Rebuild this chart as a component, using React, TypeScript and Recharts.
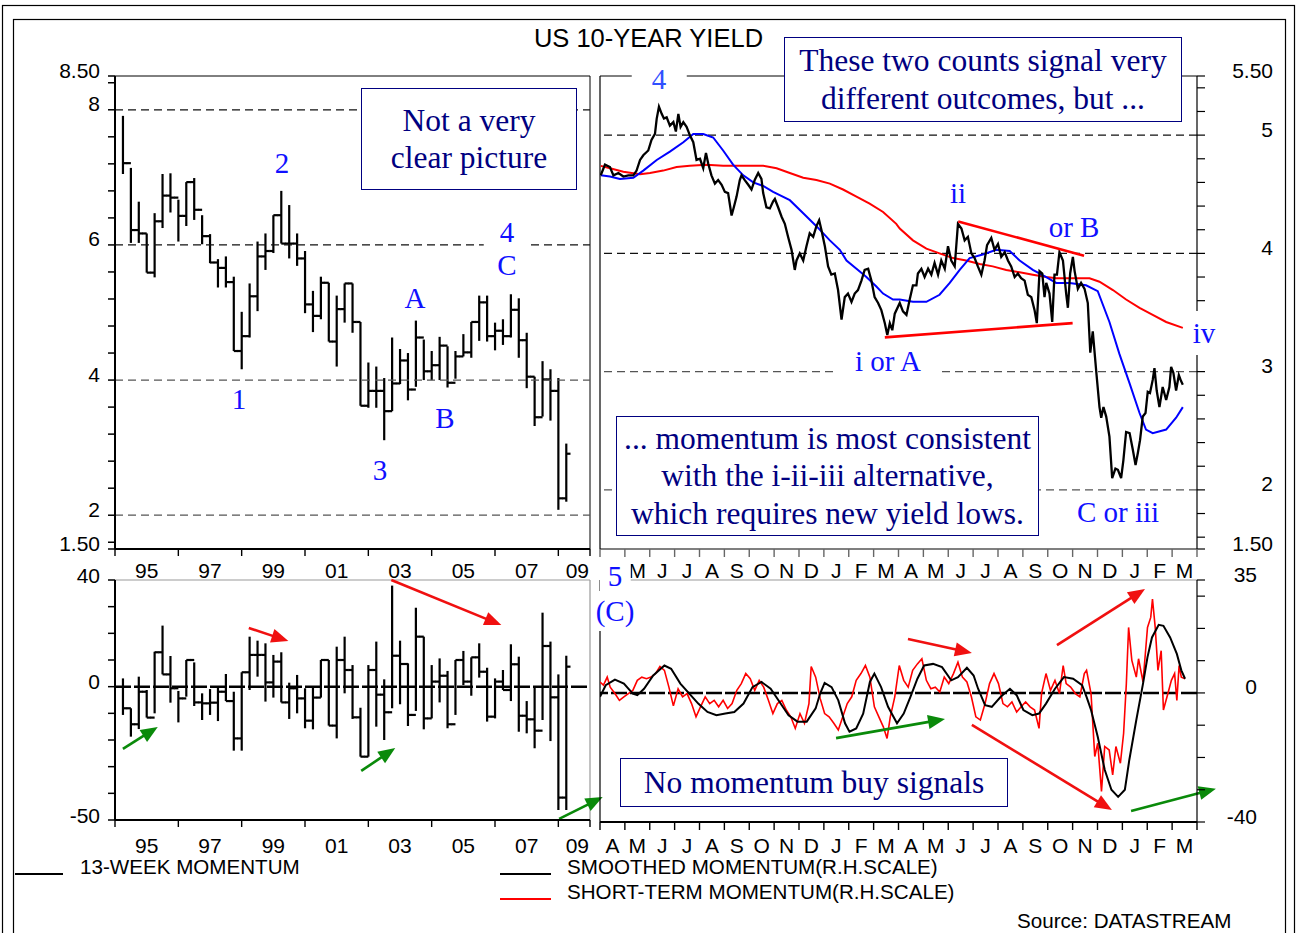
import React from 'react';
import { ComposedChart, Bar, Line, XAxis, YAxis, ReferenceLine } from 'recharts';

const PAGE_W = 1297;
const PAGE_H = 933;
const SANS = "'Liberation Sans', Arial, Helvetica, sans-serif";
const SERIF = "'Liberation Serif', 'Times New Roman', Times, serif";
const NAVY = '#000080';
const BLUE = '#1010ff';
const AXIS_FONT = 21;

// ---------------- quarterly US 10-year yield (high / low / close) ----------------
const quarterYieldHigh = [7.91, 7.14, 6.64, 6.17, 6.47, 7.05, 7.06, 6.67, 6.93, 6.99, 6.44, 6.16, 5.79, 5.83, 5.53, 5.01, 5.43, 6.05, 6.17, 6.44, 6.8, 6.59, 6.17, 5.91, 5.32, 5.53, 5.44, 5.25, 5.43, 5.43, 4.86, 4.26, 4.2, 4.03, 4.63, 4.46, 4.4, 4.88, 4.6, 4.43, 4.64, 4.5, 4.43, 4.68, 4.86, 5.25, 5.25, 4.85, 4.9, 5.27, 5.21, 4.7, 4.05, 4.28, 4.16, 4.03, 3.06];
const quarterYieldLow = [7.05, 6.03, 6.03, 5.59, 5.52, 6.25, 6.48, 6.05, 6.28, 6.37, 6.01, 5.73, 5.37, 5.37, 4.43, 4.16, 4.63, 5.02, 5.63, 5.88, 6.02, 5.8, 5.69, 4.99, 4.71, 4.9, 4.57, 4.2, 4.85, 4.7, 3.62, 3.59, 3.59, 3.11, 3.54, 3.94, 3.7, 3.9, 4.0, 4.0, 4.0, 3.89, 4.02, 4.35, 4.33, 4.58, 4.57, 4.44, 4.52, 4.63, 4.33, 3.88, 3.32, 3.46, 3.4, 2.08, 2.2];
const quarterYieldClose = [7.21, 6.22, 6.17, 5.59, 6.35, 6.73, 6.7, 6.43, 6.93, 6.52, 6.13, 5.74, 5.66, 5.45, 4.43, 4.65, 5.24, 5.83, 5.91, 6.44, 6.02, 6.02, 5.8, 5.12, 4.95, 5.44, 4.57, 5.05, 5.43, 4.86, 3.62, 3.84, 3.84, 3.54, 3.95, 4.29, 3.86, 4.63, 4.13, 4.22, 4.51, 3.96, 4.35, 4.41, 4.86, 5.15, 4.65, 4.73, 4.65, 5.04, 4.59, 4.05, 3.45, 4.01, 3.84, 2.25, 2.91];

// ---------------- quarterly 13-week momentum (high / low / close) ----------------
const quarterMomHigh = [3.1, -8.1, 3.75, -1.25, 13.1, 22.9, 11.5, -1.6, 10, 9.1, -2.5, -0.9, -0.25, 4.75, -1.9, 5.4, 18.75, 17.25, 16.25, 11.9, 12.9, 1.5, 4.4, -0.6, -0.4, 10, 10, 15, 18.75, 8.1, -7.9, 8.1, 16.9, 2.75, 37.9, 17.25, 8.75, 29.6, 18.75, 8.1, 10.6, 5.9, 10, 13.4, 11, 16.25, 7.1, 3.1, 6.25, 15.9, 11.25, -5.4, 0, 27.75, 16.9, 4.6, 11.6];
const quarterMomLow = [-10.6, -18.75, -15.9, -11.6, -10, 4.6, -6, -13.4, -3.75, -7.25, -12.5, -10.6, -12.9, -5.4, -24, -24, -1.25, 3.75, -5.6, -4.1, -5.9, -12.1, -10, -15.6, -16, -4.1, -14.6, -19.4, -2.5, -12.1, -26.25, -26.25, -15, -20, -8.1, -6.6, -14.75, -9.1, -16, -11.9, -5.9, -15.6, -10.6, 0.6, -3.4, 3.4, -13.1, -11.9, -1.25, -5.4, -16.9, -17.5, -23.1, -12.5, -20.4, -46.25, -46.25];
const quarterMomClose = [-8.1, -14.1, -1.9, -11.6, 12.9, 4.6, -0.6, -4.4, 10, -5.9, -6.25, -6, -1.9, -5.4, -19.4, 5.4, 11.9, 11.9, 1.6, 9.4, -5.9, -0.6, -4.4, -12.75, -4.1, 10, -14.6, 10, 6.25, -11.5, -26.25, 6.25, -3, -9.6, 11.6, 8.5, -10.6, 18.75, -11.9, 1.9, 4.1, -14.1, 10, 1.9, 11, 5.6, -11.25, 1.9, -1.25, 8.4, -10.9, -12.25, -16.5, 15.25, -4, -41.6, 7.5];

// ---------------- daily data: [months since 1 Apr 2007, value] ----------------
const dailyYield = [
  [0.03, 4.66], [0.2, 4.75], [0.4, 4.73], [0.54, 4.66], [0.74, 4.68], [0.94, 4.65], [1.14, 4.66], [1.34, 4.66], [1.47, 4.7], [1.61, 4.79],
  [1.74, 4.83], [1.94, 4.87], [2.07, 4.96], [2.21, 5.01], [2.28, 5.14], [2.37, 5.24], [2.48, 5.18], [2.57, 5.14], [2.68, 5.15], [2.81, 5.08],
  [2.95, 5.11], [3.05, 5.03], [3.15, 5.18], [3.24, 5.07], [3.35, 5.11], [3.48, 5.07], [3.61, 5.0], [3.75, 4.94], [3.88, 4.79], [4.02, 4.8],
  [4.15, 4.72], [4.26, 4.85], [4.35, 4.76], [4.48, 4.66], [4.62, 4.59], [4.75, 4.62], [4.89, 4.58], [5.02, 4.52], [5.15, 4.51], [5.29, 4.32],
  [5.38, 4.39], [5.49, 4.48], [5.62, 4.62], [5.69, 4.66], [5.82, 4.62], [5.96, 4.58], [6.09, 4.54], [6.22, 4.62], [6.36, 4.68], [6.49, 4.63],
  [6.56, 4.51], [6.69, 4.39], [6.83, 4.38], [6.96, 4.44], [7.03, 4.46], [7.16, 4.39], [7.3, 4.31], [7.43, 4.25], [7.56, 4.14], [7.7, 4.03],
  [7.83, 3.86], [7.9, 3.94], [8.03, 4.0], [8.17, 3.94], [8.3, 4.06], [8.43, 4.17], [8.57, 4.14], [8.7, 4.23], [8.81, 4.28], [8.9, 4.2],
  [9.04, 4.06], [9.17, 3.89], [9.3, 3.82], [9.44, 3.83], [9.57, 3.69], [9.71, 3.44], [9.84, 3.63], [9.97, 3.66], [10.11, 3.59], [10.24, 3.66],
  [10.37, 3.69], [10.51, 3.77], [10.64, 3.86], [10.78, 3.87], [10.91, 3.77], [11.04, 3.63], [11.18, 3.58], [11.31, 3.52], [11.45, 3.41], [11.55, 3.31],
  [11.65, 3.41], [11.75, 3.35], [11.85, 3.49], [12.05, 3.58], [12.18, 3.51], [12.32, 3.48], [12.45, 3.61], [12.58, 3.73], [12.72, 3.73], [12.78, 3.83],
  [12.92, 3.87], [13.05, 3.8], [13.19, 3.87], [13.32, 3.82], [13.45, 3.92], [13.59, 3.82], [13.72, 3.94], [13.86, 3.87], [13.99, 4.06], [14.12, 3.94],
  [14.26, 3.89], [14.39, 4.25], [14.53, 4.21], [14.66, 4.11], [14.79, 4.14], [14.93, 4.0], [15.06, 3.96], [15.19, 3.89], [15.33, 3.82], [15.46, 3.94],
  [15.56, 4.07], [15.73, 4.13], [15.86, 4.03], [16.0, 4.08], [16.13, 3.97], [16.27, 4.01], [16.4, 3.94], [16.53, 3.89], [16.67, 3.8], [16.8, 3.83],
  [16.93, 3.79], [17.07, 3.77], [17.2, 3.65], [17.34, 3.63], [17.47, 3.52], [17.56, 3.41], [17.67, 3.85], [17.78, 3.83], [17.87, 3.63], [17.94, 3.75],
  [18.07, 3.66], [18.18, 3.42], [18.27, 3.82], [18.37, 3.82], [18.47, 4.01], [18.61, 3.94], [18.74, 3.66], [18.81, 3.54], [18.9, 3.83], [19.01, 3.97],
  [19.08, 3.85], [19.21, 3.7], [19.34, 3.75], [19.48, 3.7], [19.61, 3.58], [19.71, 3.16], [19.81, 3.34], [19.95, 3.0], [20.08, 2.7], [20.15, 2.61],
  [20.24, 2.7], [20.35, 2.62], [20.48, 2.45], [20.59, 2.1], [20.72, 2.18], [20.82, 2.17], [20.95, 2.1], [21.04, 2.25], [21.15, 2.49], [21.29, 2.48],
  [21.42, 2.34], [21.53, 2.21], [21.62, 2.31], [21.71, 2.42], [21.82, 2.62], [21.93, 2.65], [22.02, 2.83], [22.11, 2.82], [22.22, 2.93], [22.29, 3.03],
  [22.38, 2.84], [22.49, 2.7], [22.62, 2.87], [22.76, 2.76], [22.89, 2.87], [22.96, 3.04], [23.05, 2.99], [23.16, 2.84], [23.27, 2.97], [23.36, 2.92],
  [23.43, 2.89],
];
const shortAverage = [
  [0.03, 4.66], [0.4, 4.65], [0.8, 4.63], [1.34, 4.64], [1.74, 4.7], [2.28, 4.79], [2.81, 4.86], [3.35, 4.94], [3.75, 5.01], [4.15, 5.01],
  [4.55, 4.98], [4.95, 4.87], [5.35, 4.75], [5.76, 4.66], [6.16, 4.6], [6.56, 4.57], [6.96, 4.52], [7.63, 4.45], [8.17, 4.34], [8.7, 4.23],
  [9.24, 4.11], [9.64, 4.03], [9.91, 3.94], [10.31, 3.87], [10.71, 3.8], [11.11, 3.72], [11.38, 3.66], [11.78, 3.61], [12.05, 3.61], [12.58, 3.59],
  [13.12, 3.59], [13.65, 3.65], [14.06, 3.75], [14.46, 3.86], [14.86, 3.96], [15.39, 3.99], [15.93, 4.03], [16.47, 4.02], [16.87, 3.94], [17.4, 3.86],
  [17.94, 3.8], [18.34, 3.75], [18.88, 3.75], [19.54, 3.73], [20.01, 3.68], [20.48, 3.42], [20.88, 3.15], [21.29, 2.9], [21.69, 2.65], [21.95, 2.51],
  [22.22, 2.48], [22.76, 2.51], [23.16, 2.61], [23.43, 2.7],
];
const longAverage = [
  [0.03, 4.74], [0.4, 4.72], [0.94, 4.69], [1.61, 4.67], [2.01, 4.68], [2.54, 4.7], [3.08, 4.73], [3.61, 4.74], [4.28, 4.75], [4.95, 4.74],
  [5.62, 4.74], [6.56, 4.74], [7.1, 4.72], [7.63, 4.68], [8.17, 4.64], [8.7, 4.62], [9.24, 4.59], [9.77, 4.54], [10.31, 4.48], [10.84, 4.42],
  [11.38, 4.35], [11.91, 4.25], [12.05, 4.21], [12.58, 4.11], [13.12, 4.04], [13.65, 4.0], [14.19, 3.96], [14.72, 3.94], [15.26, 3.91], [15.79, 3.89],
  [16.33, 3.86], [16.87, 3.84], [17.4, 3.82], [17.94, 3.8], [18.34, 3.79], [19.01, 3.79], [19.68, 3.79], [20.08, 3.76], [20.62, 3.69], [21.15, 3.61],
  [21.69, 3.54], [22.22, 3.48], [22.76, 3.42], [23.43, 3.37],
];
const smoothedMomentum = [
  [0.0, -1.2], [0.23, 2.4], [0.6, 4.1], [0.96, 2.9], [1.32, -0.2], [1.5, -0.7], [1.77, 1.3], [2.14, 5.4], [2.59, 8.5], [2.86, 7.5],
  [3.23, 2.9], [3.59, -0.2], [3.95, -3.3], [4.32, -5.9], [4.68, -6.9], [5.04, -6.4], [5.4, -5.9], [5.77, -3.3], [6.13, 1.8], [6.49, 3.4],
  [6.86, 1.3], [7.22, -2.8], [7.58, -6.9], [7.94, -8.9], [8.31, -8.9], [8.67, -4.8], [8.85, -0.2], [9.03, 3.1], [9.31, 1.8], [9.58, -2.3],
  [9.85, -9.4], [10.03, -12.0], [10.3, -11.0], [10.58, -6.4], [10.85, 3.4], [11.03, 6.0], [11.3, 1.8], [11.58, -4.3], [11.94, -9.4], [12.21, -6.4],
  [12.48, -1.2], [12.76, 4.4], [13.03, 8.5], [13.39, 9.0], [13.75, 8.0], [14.12, 3.9], [14.39, 4.9], [14.75, 7.8], [15.02, 5.4], [15.2, 1.3],
  [15.48, -3.8], [15.75, -4.3], [16.11, -1.2], [16.48, 1.3], [16.75, -0.7], [17.02, -5.3], [17.38, -6.9], [17.65, -6.4], [17.93, -3.3], [18.29, 1.3],
  [18.65, 4.9], [19.02, 4.4], [19.38, 2.4], [19.56, -1.2], [19.74, -5.3], [20.01, -13.6], [20.29, -23.8], [20.56, -30.0], [20.83, -32.2], [21.1, -30.0],
  [21.28, -20.7], [21.56, -8.4], [21.83, 2.9], [22.01, 11.1], [22.19, 17.2], [22.46, 21.1], [22.65, 20.8], [22.92, 17.2], [23.19, 12.1], [23.37, 7.0],
  [23.52, 4.4],
];
const shortTermMomentum = [
  [0.0, 3.4], [0.14, 2.4], [0.29, 4.9], [0.41, 1.8], [0.6, -0.2], [0.78, -2.3], [0.96, -1.2], [1.14, -0.2], [1.32, 0.8], [1.5, 3.9],
  [1.68, 4.9], [1.87, 4.4], [2.05, 4.9], [2.23, 6.0], [2.41, 8.2], [2.59, 7.0], [2.77, 1.8], [2.95, -4.0], [3.14, 1.3], [3.32, -1.2],
  [3.5, -0.2], [3.68, -3.3], [3.86, -7.4], [4.04, -4.3], [4.23, -1.2], [4.41, -3.3], [4.59, -2.3], [4.77, -4.3], [4.95, -2.3], [5.13, -4.8],
  [5.31, -3.3], [5.5, 0.8], [5.68, 2.9], [5.86, 6.0], [6.04, 4.4], [6.22, 0.8], [6.4, 3.9], [6.58, 1.8], [6.77, -2.3], [6.95, -6.4],
  [7.13, -3.3], [7.31, -2.3], [7.49, -5.3], [7.67, -7.4], [7.85, -11.0], [8.04, -6.4], [8.22, -9.4], [8.4, -3.3], [8.49, 8.2], [8.67, 4.9],
  [8.85, -1.7], [9.03, -6.4], [9.21, -7.4], [9.4, -9.4], [9.58, -11.5], [9.76, -7.4], [9.94, -3.3], [10.12, -1.2], [10.3, 3.9], [10.49, 6.0],
  [10.67, 8.5], [10.85, 4.9], [11.03, -4.3], [11.21, -7.4], [11.39, -10.5], [11.54, -14.1], [11.67, -7.4], [11.85, -1.2], [12.03, 8.5], [12.21, 3.9],
  [12.39, 1.8], [12.57, 7.0], [12.76, 9.0], [12.94, 10.6], [13.12, 3.9], [13.3, 1.3], [13.48, 1.8], [13.66, 0.3], [13.84, 4.9], [14.02, 2.9],
  [14.21, 6.0], [14.39, 9.5], [14.57, 4.9], [14.75, 3.4], [14.93, -1.2], [15.11, -7.4], [15.29, -8.4], [15.48, -3.3], [15.66, 2.9], [15.84, 6.0],
  [16.02, 2.9], [16.2, -3.3], [16.38, -4.3], [16.56, -2.8], [16.75, -5.9], [16.93, -4.3], [17.11, -2.8], [17.29, -4.3], [17.47, -5.3], [17.65, -11.0],
  [17.75, -0.2], [17.93, 6.0], [18.11, 0.8], [18.29, 3.9], [18.47, -0.2], [18.62, 8.5], [18.74, 2.9], [18.92, 1.8], [19.11, -0.2], [19.29, -1.2],
  [19.47, 6.0], [19.56, 7.0], [19.74, -0.2], [19.89, -19.7], [20.01, -15.6], [20.16, -30.5], [20.29, -16.6], [20.47, -17.7], [20.61, -25.4], [20.74, -16.6],
  [20.92, -21.8], [21.05, -12.5], [21.16, 2.9], [21.25, 20.3], [21.38, 10.1], [21.56, 4.9], [21.65, 10.6], [21.83, 3.4], [22.01, 20.3], [22.14, 23.4],
  [22.21, 29.1], [22.32, 20.3], [22.43, 7.0], [22.56, 13.1], [22.65, -5.3], [22.83, -0.2], [22.97, 3.9], [23.1, 6.0], [23.19, -2.3], [23.28, 8.5],
  [23.37, 4.9], [23.52, 4.4],
];

// ---------------- axis ticks and labels ----------------
const yearTickVals = [0, 8, 16, 24, 32, 40, 48, 56, 60];
const yearLabelVals = [4, 12, 20, 28, 36, 44, 52, 58.4];
const yearLabels = ['95', '97', '99', '01', '03', '05', '07', '09'];
const monthTickVals = [0, 1, 2, 3, 4, 5, 6, 7, 8, 9, 10, 11, 12, 13, 14, 15, 16, 17, 18, 19, 20, 21, 22, 23, 24];
const monthLabelVals = [0.5, 1.5, 2.5, 3.5, 4.5, 5.5, 6.5, 7.5, 8.5, 9.5, 10.5, 11.5, 12.5, 13.5, 14.5, 15.5, 16.5, 17.5, 18.5, 19.5, 20.5, 21.5, 22.5, 23.5];
const monthLabels = ['A', 'M', 'J', 'J', 'A', 'S', 'O', 'N', 'D', 'J', 'F', 'M', 'A', 'M', 'J', 'J', 'A', 'S', 'O', 'N', 'D', 'J', 'F', 'M'];
// upper row: the first "A" sits under the "5" wave label in the reference, so it is not shown
const monthLabelsUpper = ['', 'M', 'J', 'J', 'A', 'S', 'O', 'N', 'D', 'J', 'F', 'M', 'A', 'M', 'J', 'J', 'A', 'S', 'O', 'N', 'D', 'J', 'F', 'M'];
const yieldTickVals = [1.5, 1.6, 2, 2.4, 2.8, 3.2, 3.6, 4, 4.4, 4.8, 5.2, 5.6, 6, 6.4, 6.8, 7.2, 7.6, 8, 8.4, 8.5];
const yieldLabelVals = [1.5, 2, 4, 6, 8, 8.5];
const yieldLabels = ['1.50', '2', '4', '6', '8', '8.50'];
const momTickVals = [-50, -40, -30, -20, -10, 0, 10, 20, 30, 40];
const momLabelVals = [-50, 0, 40];
const momLabels = ['-50', '0', '40'];
const dailyTickVals = [1.5, 1.6, 1.8, 2, 2.2, 2.4, 2.6, 2.8, 3, 3.2, 3.4, 3.6, 3.8, 4, 4.2, 4.4, 4.6, 4.8, 5, 5.2, 5.4, 5.5];
const dailyLabelVals = [1.5, 2, 3, 4, 5, 5.5];
const dailyLabels = ['1.50', '2', '3', '4', '5', '5.50'];
const stmTickVals = [-40, -30, -20, -10, 0, 10, 20, 30, 35];
const stmLabelVals = [-40, 0, 35];
const stmLabels = ['-40', '0', '35'];

// annotations in data coordinates
const trendLower = [{ x: 11.45, y: 3.29 }, { x: 19.0, y: 3.41 }];
const trendUpper = [{ x: 14.4, y: 4.27 }, { x: 19.46, y: 3.98 }];
const momArrowsLeft = [
  { c: 'green', s: [{ x: 1.0, y: -23.3 }, { x: 5.4, y: -15.1 }] },
  { c: 'red', s: [{ x: 16.9, y: 22.0 }, { x: 21.9, y: 17.1 }] },
  { c: 'green', s: [{ x: 31.1, y: -31.6 }, { x: 35.4, y: -23.0 }] },
  { c: 'red', s: [{ x: 34.9, y: 40.0 }, { x: 48.8, y: 23.1 }] },
  { c: 'green', s: [{ x: 56.1, y: -49.6 }, { x: 61.6, y: -41.4 }] },
];
const momArrowsRight = [
  { c: 'red', s: [{ x: 12.38, y: 16.7 }, { x: 14.95, y: 12.4 }] },
  { c: 'green', s: [{ x: 9.49, y: -14.0 }, { x: 13.87, y: -8.1 }] },
  { c: 'red', s: [{ x: 14.95, y: -9.9 }, { x: 20.58, y: -36.3 }] },
  { c: 'red', s: [{ x: 18.37, y: 14.8 }, { x: 21.91, y: 32.2 }] },
  { c: 'green', s: [{ x: 21.35, y: -36.6 }, { x: 24.76, y: -29.7 }] },
];

// ---------------- derived tables ----------------
const makeBars = (hi: number[], lo: number[], cl: number[]) =>
  hi.map((h, k) => ({ idx: k + 1, range: [lo[k], h], hi: h, lo: lo[k], close: cl[k], prev: k > 0 ? cl[k - 1] : null }));
const yieldBars = makeBars(quarterYieldHigh, quarterYieldLow, quarterYieldClose);
const momBars = makeBars(quarterMomHigh, quarterMomLow, quarterMomClose);
const toSeries = (pairs: number[][]) => pairs.map(([m, v]) => ({ m, v }));
const union = (a: number[], b: number[]) => [...a, ...b].sort((p, q) => p - q);

const near = (a: number, b: number) => Math.abs(a - b) < 1e-6;
const labelFor = (vals: number[], texts: string[], v: number) => {
  const k = vals.findIndex((t) => near(t, v));
  return k >= 0 ? texts[k] : '';
};

const yTick = (vals: number[], texts: string[], dy: number) => (p: any) => {
  const s = labelFor(vals, texts, p.payload.value);
  if (!s) return <g />;
  return (
    <text x={p.x} y={p.y + dy} textAnchor="end" dominantBaseline="central" fontFamily={SANS} fontSize={AXIS_FONT} fill="#000">
      {s}
    </text>
  );
};

// x ticks: boundary values get a downward tick mark, label values get centred text
const xTick = (bounds: number[], labelVals: number[], labels: string[], tickLen: number, tickColor: string, labelDy: number) => (p: any) => {
  const v = p.payload.value;
  const s = labelFor(labelVals, labels, v);
  const isBound = bounds.some((b) => near(b, v));
  return (
    <g>
      {isBound && <line x1={p.x} x2={p.x} y1={p.y} y2={p.y + tickLen} stroke={tickColor} strokeWidth={1.4} />}
      {s && (
        <text x={p.x} y={p.y + labelDy} textAnchor="middle" dominantBaseline="central" fontFamily={SANS} fontSize={AXIS_FONT} fill="#000">
          {s}
        </text>
      )}
    </g>
  );
};

const OhlcShape = (props: any) => {
  const { x, y, width, height, payload } = props;
  if (x == null || y == null || !payload) return <g />;
  const cx = x + width / 2;
  const top = Math.min(y, y + height);
  const h = Math.abs(height);
  const span = payload.hi - payload.lo;
  const toY = (v: number) => top + ((payload.hi - v) / span) * h;
  const sw = 2.2;
  return (
    <g>
      <line x1={cx} x2={cx} y1={top} y2={top + h} stroke="#000" strokeWidth={sw} />
      {payload.prev != null && (
        <line x1={cx - 4.2} x2={cx} y1={toY(payload.prev)} y2={toY(payload.prev)} stroke="#000" strokeWidth={sw} />
      )}
      <line x1={cx} x2={cx + 4.2} y1={toY(payload.close)} y2={toY(payload.close)} stroke="#000" strokeWidth={sw} />
    </g>
  );
};

const arrowShape = (color: string) => (p: any) => {
  const { x1, y1, x2, y2 } = p;
  if ([x1, y1, x2, y2].some((v) => v == null || Number.isNaN(v))) return <g />;
  const ang = Math.atan2(y2 - y1, x2 - x1);
  const L = 17;
  const Wd = 7;
  const bx = x2 - L * Math.cos(ang);
  const by = y2 - L * Math.sin(ang);
  const px = -Math.sin(ang);
  const py = Math.cos(ang);
  return (
    <g>
      <line x1={x1} y1={y1} x2={bx + 2 * Math.cos(ang)} y2={by + 2 * Math.sin(ang)} stroke={color} strokeWidth={2.6} />
      <polygon points={`${x2},${y2} ${bx + px * Wd},${by + py * Wd} ${bx - px * Wd},${by - py * Wd}`} fill={color} />
    </g>
  );
};

const ARROW_COLORS: Record<string, string> = { red: '#f01010', green: '#0a8a0a' };

const layer: React.CSSProperties = { position: 'absolute', left: 0, top: 0 };

// ---------------- panels ----------------
const YieldQuarterly = () => (
  <div style={layer}>
    <ComposedChart width={PAGE_W} height={PAGE_H} data={yieldBars} margin={{ top: 76, left: 114, right: PAGE_W - 590, bottom: PAGE_H - 549 - 1 }}>
      <XAxis dataKey="idx" type="number" domain={[0, 60]} allowDataOverflow ticks={union(yearTickVals, yearLabelVals)} interval={0} height={1} tickSize={0} tickMargin={0} tickLine={false}
        tick={xTick(yearTickVals, yearLabelVals, yearLabels, 7, '#000', 21)} axisLine={{ stroke: '#000', strokeWidth: 2 }} />
      <YAxis type="number" domain={[1.5, 8.5]} allowDataOverflow ticks={yieldTickVals} interval={0} width={1} tickSize={7} tickMargin={8}
        tick={yTick(yieldLabelVals, yieldLabels, -6)} axisLine={{ stroke: '#000', strokeWidth: 2 }} tickLine={{ stroke: '#000', strokeWidth: 1.5 }} />
      <ReferenceLine y={8.5} ifOverflow="visible" stroke="#000" strokeWidth={1} />
      <ReferenceLine x={60} ifOverflow="visible" stroke="#000" strokeWidth={1} />
      <ReferenceLine y={8} stroke="#111" strokeWidth={1.3} strokeDasharray="8 5" />
      <ReferenceLine y={6} stroke="#111" strokeWidth={1.3} strokeDasharray="8 5" />
      <ReferenceLine y={4} stroke="#555" strokeWidth={1.3} strokeDasharray="8 5" />
      <ReferenceLine y={2} stroke="#555" strokeWidth={1.3} strokeDasharray="8 5" />
      <Bar dataKey="range" barSize={2} shape={OhlcShape} isAnimationActive={false} />
    </ComposedChart>
  </div>
);

const YieldDaily = () => (
  <div style={layer}>
    <ComposedChart width={PAGE_W} height={PAGE_H} margin={{ top: 76, left: 600, right: PAGE_W - 1197 - 1, bottom: PAGE_H - 549 - 1 }}>
      <XAxis dataKey="m" type="number" domain={[0, 24]} allowDataOverflow ticks={union(monthTickVals, monthLabelVals)} interval={0} height={1} tickSize={0} tickMargin={0} tickLine={false}
        tick={xTick(monthTickVals, monthLabelVals, monthLabelsUpper, 8, '#666', 21)} axisLine={{ stroke: '#000', strokeWidth: 1.2 }} />
      <YAxis orientation="right" type="number" domain={[1.5, 5.5]} allowDataOverflow ticks={dailyTickVals} interval={0} width={1} tickSize={8} tickMargin={68}
        tick={yTick(dailyLabelVals, dailyLabels, -6)} axisLine={{ stroke: '#000', strokeWidth: 1.2 }} tickLine={{ stroke: '#000', strokeWidth: 1.2 }} />
      <ReferenceLine y={5.5} ifOverflow="visible" stroke="#000" strokeWidth={1} />
      <ReferenceLine x={0} ifOverflow="visible" stroke="#000" strokeWidth={1.2} />
      <ReferenceLine y={5} stroke="#111" strokeWidth={1.3} strokeDasharray="8 5" />
      <ReferenceLine y={4} stroke="#111" strokeWidth={1.3} strokeDasharray="8 5" />
      <ReferenceLine y={3} stroke="#555" strokeWidth={1.3} strokeDasharray="8 5" />
      <ReferenceLine y={2} stroke="#555" strokeWidth={1.3} strokeDasharray="8 5" />
      <Line data={toSeries(longAverage)} dataKey="v" stroke="#ff0000" strokeWidth={2} dot={false} isAnimationActive={false} />
      <Line data={toSeries(shortAverage)} dataKey="v" stroke="#0000ff" strokeWidth={2} dot={false} isAnimationActive={false} />
      <Line data={toSeries(dailyYield)} dataKey="v" stroke="#000" strokeWidth={2.3} dot={false} isAnimationActive={false} />
      <ReferenceLine segment={trendLower} ifOverflow="visible" stroke="#ff0000" strokeWidth={2.6} />
      <ReferenceLine segment={trendUpper} ifOverflow="visible" stroke="#ff0000" strokeWidth={2.6} />
    </ComposedChart>
  </div>
);

const MomentumQuarterly = () => (
  <div style={layer}>
    <ComposedChart width={PAGE_W} height={PAGE_H} data={momBars} margin={{ top: 580, left: 114, right: PAGE_W - 590, bottom: PAGE_H - 820 - 1 }}>
      <XAxis dataKey="idx" type="number" domain={[0, 60]} allowDataOverflow ticks={union(yearTickVals, yearLabelVals)} interval={0} height={1} tickSize={0} tickMargin={0} tickLine={false}
        tick={xTick(yearTickVals, yearLabelVals, yearLabels, 7, '#000', 25)} axisLine={{ stroke: '#000', strokeWidth: 2 }} />
      <YAxis type="number" domain={[-50, 40]} allowDataOverflow ticks={momTickVals} interval={0} width={1} tickSize={7} tickMargin={8}
        tick={yTick(momLabelVals, momLabels, -5)} axisLine={{ stroke: '#000', strokeWidth: 2 }} tickLine={{ stroke: '#000', strokeWidth: 1.5 }} />
      <ReferenceLine y={40} ifOverflow="visible" stroke="#999" strokeWidth={1.2} />
      <ReferenceLine x={60} ifOverflow="visible" stroke="#999" strokeWidth={1.2} />
      <ReferenceLine y={0} stroke="#000" strokeWidth={2.5} strokeDasharray="16 3" />
      <Bar dataKey="range" barSize={2} shape={OhlcShape} isAnimationActive={false} />
      {momArrowsLeft.map((a, k) => (
        <ReferenceLine key={`al${k}`} segment={a.s} ifOverflow="visible" stroke={ARROW_COLORS[a.c]} shape={arrowShape(ARROW_COLORS[a.c])} />
      ))}
    </ComposedChart>
  </div>
);

const MomentumDaily = () => (
  <div style={layer}>
    <ComposedChart width={PAGE_W} height={PAGE_H} margin={{ top: 580, left: 600, right: PAGE_W - 1197 - 1, bottom: PAGE_H - 822 - 1 }}>
      <XAxis dataKey="m" type="number" domain={[0, 24]} allowDataOverflow ticks={union(monthTickVals, monthLabelVals)} interval={0} height={1} tickSize={0} tickMargin={0} tickLine={false}
        tick={xTick(monthTickVals, monthLabelVals, monthLabels, 8, '#000', 23)} axisLine={{ stroke: '#000', strokeWidth: 2 }} />
      <YAxis orientation="right" type="number" domain={[-40, 35]} allowDataOverflow ticks={stmTickVals} interval={0} width={1} tickSize={8} tickMargin={52}
        tick={yTick(stmLabelVals, stmLabels, -6)} axisLine={{ stroke: '#000', strokeWidth: 1.2 }} tickLine={{ stroke: '#000', strokeWidth: 1.2 }} />
      <ReferenceLine y={35} ifOverflow="visible" stroke="#999" strokeWidth={1.2} />
      <ReferenceLine x={0} ifOverflow="visible" stroke="#000" strokeWidth={1.2} />
      <ReferenceLine y={0} stroke="#000" strokeWidth={2.5} strokeDasharray="16 3" />
      <Line data={toSeries(shortTermMomentum)} dataKey="v" stroke="#ff0000" strokeWidth={1.6} dot={false} isAnimationActive={false} />
      <Line data={toSeries(smoothedMomentum)} dataKey="v" stroke="#000" strokeWidth={2} dot={false} isAnimationActive={false} />
      {momArrowsRight.map((a, k) => (
        <ReferenceLine key={`ar${k}`} segment={a.s} ifOverflow="visible" stroke={ARROW_COLORS[a.c]} shape={arrowShape(ARROW_COLORS[a.c])} />
      ))}
    </ComposedChart>
  </div>
);

// ---------------- text annotations ----------------
const Tag = ({ x, y, text, pad = '0 2px', color = BLUE }: { x: number; y: number; text: string; pad?: string; color?: string }) => (
  <div
    style={{
      position: 'absolute', left: x, top: y, transform: 'translate(-50%, -50%)', background: '#fff', padding: pad,
      fontFamily: SERIF, fontSize: 29, lineHeight: '30px', color, whiteSpace: 'nowrap',
    }}
  >
    {text}
  </div>
);

const Box = ({ left, top, width, height, lines, lh }: { left: number; top: number; width: number; height: number; lines: string[]; lh: number }) => (
  <div
    style={{
      position: 'absolute', left, top, width, height, boxSizing: 'border-box', border: `1.5px solid ${NAVY}`, background: '#fff',
      display: 'flex', flexDirection: 'column', justifyContent: 'center', alignItems: 'center', fontFamily: SERIF, fontSize: 31.5,
      lineHeight: `${lh}px`, color: NAVY, whiteSpace: 'nowrap',
    }}
  >
    {lines.map((l, k) => (
      <div key={k}>{l}</div>
    ))}
  </div>
);

const Txt = ({ x, y, text }: { x: number; y: number; text: string }) => (
  <div style={{ position: 'absolute', left: x, top: y, transform: 'translateY(-50%)', fontFamily: SANS, fontSize: 20.6, lineHeight: '20px', color: '#000', whiteSpace: 'nowrap' }}>
    {text}
  </div>
);

export default function App() {
  return (
    <div style={{ position: 'absolute', left: 0, top: 0, width: PAGE_W, height: PAGE_H, background: '#fff', overflow: 'hidden' }}>
      <svg width={PAGE_W} height={PAGE_H} style={layer}>
        <rect x={2.5} y={5.5} width={1292} height={960} fill="none" stroke="#000" strokeWidth={1.2} />
        <rect x={13.5} y={19.5} width={1272} height={960} fill="none" stroke="#000" strokeWidth={1.2} />
      </svg>
      <YieldQuarterly />
      <YieldDaily />
      <MomentumQuarterly />
      <MomentumDaily />
      <svg width={PAGE_W} height={PAGE_H} style={{ ...layer, pointerEvents: 'none' }}>
        <line x1={15} x2={63} y1={874} y2={874} stroke="#000" strokeWidth={2} />
        <line x1={500} x2={551} y1={874} y2={874} stroke="#000" strokeWidth={2} />
        <line x1={500} x2={551} y1={899} y2={899} stroke="#ff0000" strokeWidth={2} />
      </svg>
      <div style={{ position: 'absolute', left: 0, width: PAGE_W, top: 24, textAlign: 'center', fontFamily: SANS, fontSize: 25.5, lineHeight: '28px', color: '#000' }}>
        US 10-YEAR YIELD
      </div>
      <Txt x={80} y={867} text="13-WEEK MOMENTUM" />
      <Txt x={567} y={867} text="SMOOTHED MOMENTUM(R.H.SCALE)" />
      <Txt x={567} y={892} text="SHORT-TERM MOMENTUM(R.H.SCALE)" />
      <Txt x={1017} y={921} text="Source: DATASTREAM" />

      <Tag x={282} y={163} text="2" />
      <Tag x={239} y={399} text="1" pad="0 20px" />
      <Tag x={380} y={470} text="3" />
      <Tag x={415} y={298} text="A" />
      <Tag x={445} y={418} text="B" />
      <Tag x={507} y={232} text="4" pad="0 16px" />
      <Tag x={507} y={265} text="C" />
      <Tag x={659} y={79} text="4" pad="0 20px" color="#3050ff" />
      <Tag x={958} y={193} text="ii" />
      <Tag x={1074} y={227} text="or B" />
      <Tag x={888} y={361} text="i or A" pad="0 18px" />
      <Tag x={1204} y={333} text="iv" pad="7px 8px" />
      <Tag x={1118} y={512} text="C or iii" />
      <Tag x={615} y={576} text="5" pad="3px 8px" />
      <Tag x={615} y={611} text="(C)" pad="5px 2px" />

      <Box left={361} top={88} width={216} height={102} lines={['Not a very', 'clear picture']} lh={37} />
      <Box left={784} top={37} width={398} height={85} lines={['These two counts signal very', 'different outcomes, but ...']} lh={38} />
      <Box left={616} top={416} width={423} height={120} lines={['... momentum is most consistent', 'with the i-ii-iii alternative,', 'which requires new yield lows.']} lh={37.5} />
      <Box left={620} top={758} width={388} height={49} lines={['No momentum buy signals']} lh={38} />
    </div>
  );
}
